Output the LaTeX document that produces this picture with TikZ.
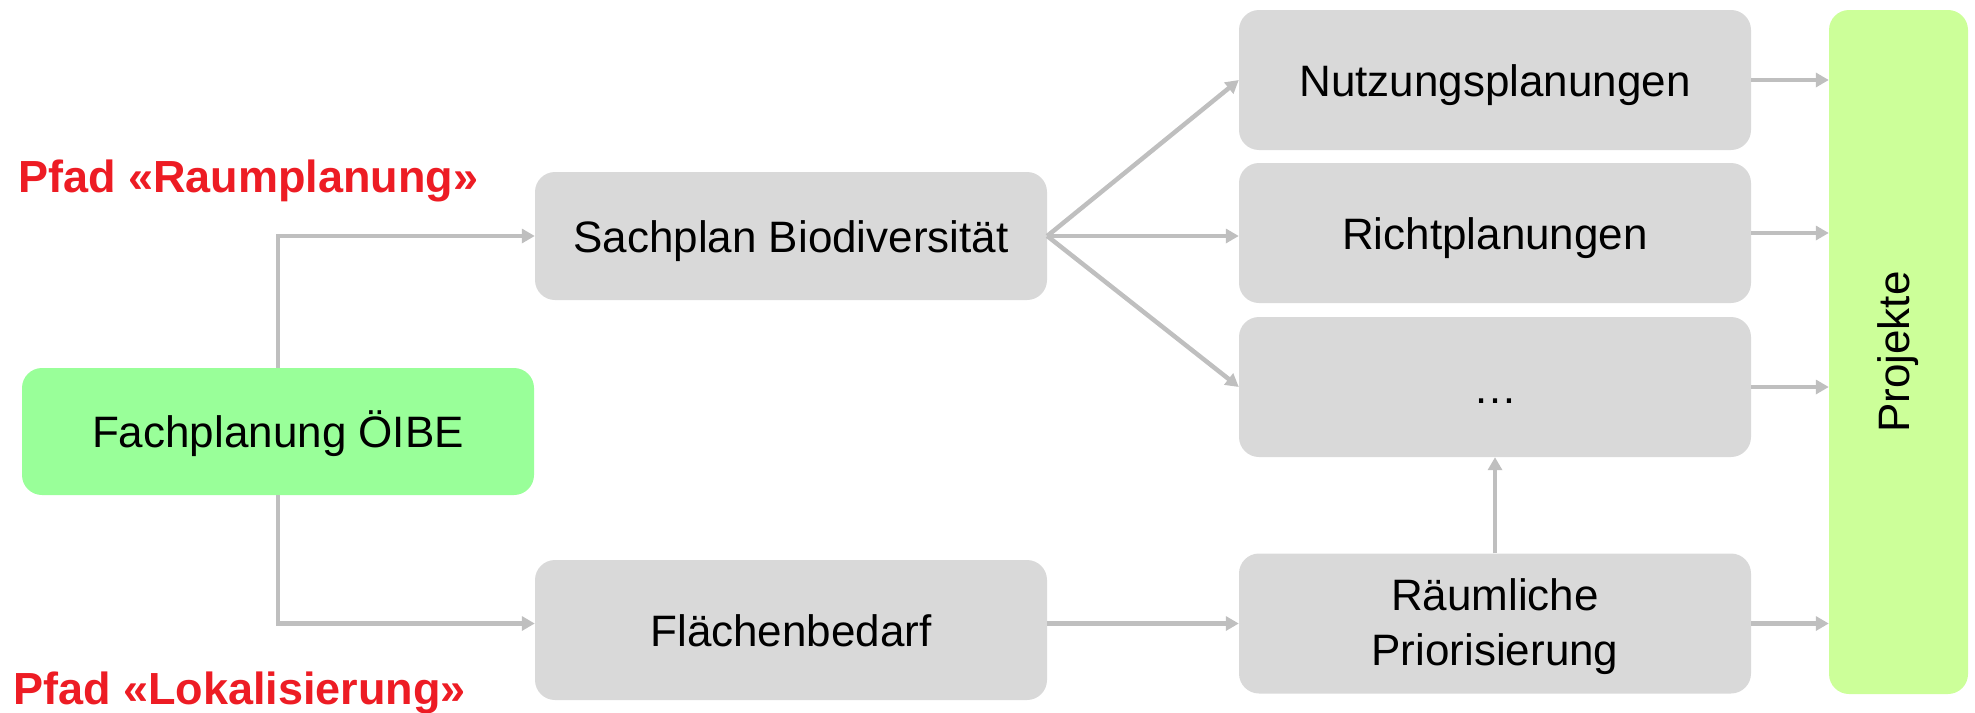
\documentclass[tikz,border=0pt]{standalone}
\usepackage{fontspec}
\setmainfont{Liberation Sans}
\usetikzlibrary{arrows.meta}
\definecolor{boxgray}{HTML}{D9D9D9}
\definecolor{greenA}{HTML}{99FF99}
\definecolor{greenB}{HTML}{CCFF99}
\definecolor{arrowgray}{HTML}{BFBFBF}
\definecolor{pathred}{HTML}{ED1C24}
\begin{document}
\begin{tikzpicture}[x=1pt,y=-1pt,
  box/.style={rounded corners=20pt, inner sep=0pt, align=center,
    font=\fontsize{44}{55}\selectfont, text=black},
  oneline/.style={text height=32pt, text depth=0pt},
  graybox/.style={box, fill=boxgray, minimum width=512pt, minimum height=140pt},
  conn/.style={draw=arrowgray, line width=4.5pt, -{Triangle[length=13pt,width=14pt]}},
  pathlabel/.style={anchor=base west, inner sep=0pt, text=pathred,
    font=\fontsize{45}{50}\selectfont\bfseries}]
\useasboundingbox (0,0) rectangle (1975,712);

\node[box, oneline, fill=greenA, minimum width=512pt, minimum height=127pt] (fach) at (278,431.5) {Fachplanung ÖIBE};
\node[graybox, oneline, minimum height=128pt] (sach) at (791,236) {Sachplan Biodiversität};
\node[graybox, oneline] (flae) at (791,630) {Flächenbedarf};
\node[graybox, oneline] (nutz) at (1495,80) {Nutzungsplanungen};
\node[graybox, oneline] (richt) at (1495,233) {Richtplanungen};
\node[graybox, oneline] (dots) at (1495,387) {\dots};
\node[graybox] (raeum) at (1495,623.5) {};
\node[inner sep=0pt, align=center, font=\fontsize{44}{55}\selectfont, yshift=-3pt] (raeumtext) at (raeum.center) {Räumliche\\Priorisierung};
\node[box, fill=greenB, minimum width=139pt, minimum height=684pt] (proj) at (1898.5,352) {};
\node[rotate=90, inner sep=0pt, font=\fontsize{44}{50}\selectfont] (projtext) at (proj.center) {Projekte};

\node[pathlabel] (lab1) at (18,192) {Pfad «Raumplanung»};
\node[pathlabel] (lab2) at (13,704) {Pfad «Lokalisierung»};

\coordinate (c1) at (fach.north |- sach.west);
\coordinate (c2) at (fach.south |- raeum.west);
\draw[conn] (fach.north) -- (c1) -- (sach.west);
\draw[conn] (fach.south) -- (c2) -- (c2 -| flae.west);

\draw[conn] (sach.east) -- (nutz.west);
\draw[conn] (sach.east) -- (sach.east -| richt.west);
\draw[conn] (sach.east) -- (dots.west);

\draw[conn] (flae.east |- raeum.west) -- (raeum.west);
\draw[conn] (raeum.north) -- (dots.south);

\draw[conn] (nutz.east) -- (nutz.east -| proj.west);
\draw[conn] (richt.east) -- (richt.east -| proj.west);
\draw[conn] (dots.east) -- (dots.east -| proj.west);
\draw[conn] (raeum.east) -- (raeum.east -| proj.west);
\end{tikzpicture}
\end{document}
